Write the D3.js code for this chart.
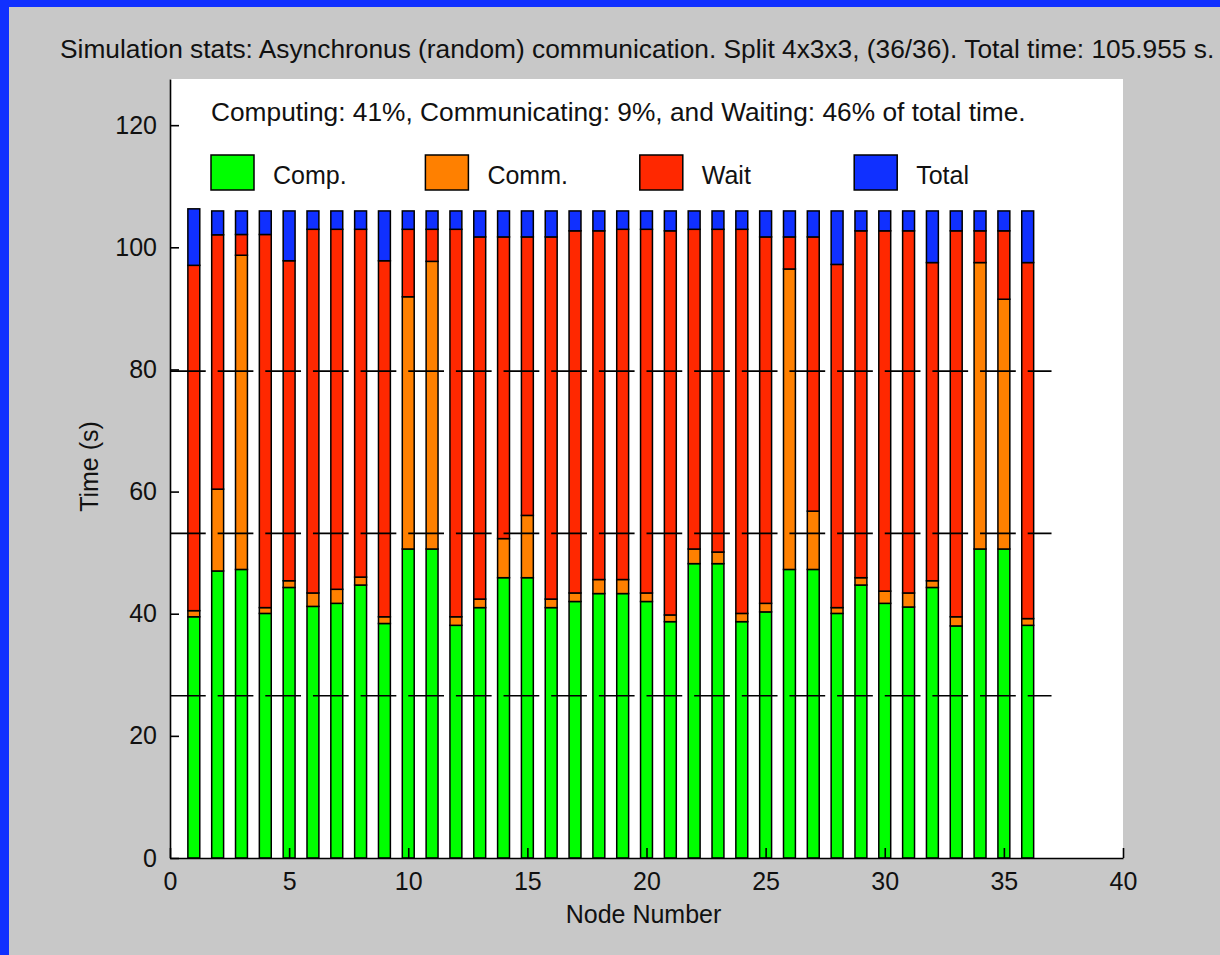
<!DOCTYPE html>
<html>
<head>
<meta charset="utf-8">
<script src="https://cdn.jsdelivr.net/npm/d3@7"></script>
<style>
  body { margin: 0; background: #c8c8c8; }
  text { font-family: "Liberation Sans", Arial, sans-serif; fill: #111; }
</style>
</head>
<body>
<script>
// values (seconds)
const nodes = d3.range(1, 37);
const comp = [39.5, 47.0, 47.25, 40.05, 44.3, 41.2, 41.7, 44.7, 38.4, 50.6, 50.6, 38.1,
  41.0, 45.9, 45.9, 41.0, 42.0, 43.3, 43.3, 42.0, 38.7, 48.2, 48.2, 38.7,
  40.3, 47.25, 47.25, 40.05, 44.7, 41.7, 41.1, 44.3, 38.0, 50.6, 50.6, 38.1];
const comm = [1.0, 13.4, 51.45, 0.95, 1.1, 2.2, 2.3, 1.3, 1.1, 41.3, 47.1, 1.4,
  1.4, 6.4, 10.2, 1.4, 1.4, 2.3, 2.3, 1.4, 1.1, 2.4, 1.9, 1.35,
  1.4, 49.2, 9.55, 0.95, 1.2, 2.0, 2.3, 1.1, 1.5, 46.9, 40.9, 1.1];
const wait = [56.55, 41.65, 3.4, 61.1, 52.4, 59.55, 58.95, 56.95, 58.3, 11.05, 5.25, 63.45,
  59.3, 49.4, 45.6, 59.3, 59.3, 57.1, 57.35, 59.55, 62.9, 52.35, 52.85, 62.9,
  60.0, 5.25, 44.9, 56.2, 56.8, 59.0, 59.3, 52.1, 63.2, 5.2, 11.2, 58.3];
const total = [106.3, 105.955, 105.955, 105.955, 105.955, 105.955, 105.955, 105.955, 105.955,
  105.955, 105.955, 105.955, 105.955, 105.955, 105.955, 105.955, 105.955, 105.955,
  105.955, 105.955, 105.955, 105.955, 105.955, 105.955, 105.955, 105.955, 105.955,
  105.955, 105.955, 105.955, 105.955, 105.955, 105.955, 105.955, 105.955, 105.955];
const keys = ["comp", "comm", "wait", "rest"];
const legendLabels = ["Comp.", "Comm.", "Wait", "Total"];
const colors = ["#00ff00", "#ff8000", "#ff2800", "#1030ff"];
const xTicks = [0, 5, 10, 15, 20, 25, 30, 35, 40];
const yTicks = [0, 20, 40, 60, 80, 100, 120];
const title = "Simulation stats: Asynchronus (random) communication. Split 4x3x3, (36/36). Total time: 105.955 s.";
const summary = "Computing: 41%, Communicating: 9%, and Waiting: 46% of total time.";

const W = 1220, H = 955;
const pLeft = 170, pRight = 1123, pTop = 79, pBottom = 858;

const rows = nodes.map((n, i) => ({
  node: n, comp: comp[i], comm: comm[i], wait: wait[i],
  rest: total[i] - comp[i] - comm[i] - wait[i]
}));
const maxTotal = d3.max(total);

const svg = d3.select("body").append("svg")
    .attr("width", W)
    .attr("height", H);

svg.append("rect").attr("width", W).attr("height", H).attr("fill", "#c8c8c8");
svg.append("rect").attr("width", W).attr("height", 7).attr("fill", "#1030ff");
svg.append("rect").attr("width", 9).attr("height", H).attr("fill", "#1030ff");

const x = d3.scaleLinear().domain([0, 40]).range([pLeft, pRight]);
const y = d3.scaleLinear().domain([0, maxTotal * 1.2]).range([pBottom, pTop]);

svg.append("rect")
    .attr("x", pLeft).attr("y", pTop)
    .attr("width", pRight - pLeft).attr("height", pBottom - pTop)
    .attr("fill", "#fff");

// stacked bars
const series = d3.stack().keys(keys)(rows);
const barW = x(0.5) - x(0);
svg.append("g").selectAll("g")
  .data(series)
  .join("g")
    .attr("fill", (d, i) => colors[i])
  .selectAll("rect")
  .data(d => d)
  .join("rect")
    .attr("x", d => x(d.data.node) - barW / 2)
    .attr("y", d => y(d[1]))
    .attr("width", barW)
    .attr("height", d => y(d[0]) - y(d[1]))
    .attr("stroke", "#000")
    .attr("stroke-width", 1.5);

// quarter lines of the total time
svg.append("g").selectAll("line")
  .data([1, 2, 3])
  .join("line")
    .attr("x1", x(0)).attr("x2", x(37))
    .attr("y1", k => y(maxTotal * k / 4))
    .attr("y2", k => y(maxTotal * k / 4))
    .attr("stroke", "#000")
    .attr("stroke-width", 1.6)
    .attr("stroke-dasharray", [x(1.5) - x(0), x(0.5) - x(0)].join(" "));

// axes
const gx = svg.append("g")
    .attr("transform", `translate(0,${pBottom})`)
    .call(d3.axisBottom(x).tickValues(xTicks).tickSizeInner(-10).tickSizeOuter(0).tickPadding(14));
const gy = svg.append("g")
    .attr("transform", `translate(${pLeft},0)`)
    .call(d3.axisLeft(y).tickValues(yTicks).tickSizeInner(-9).tickSizeOuter(0).tickPadding(13));
[gx, gy].forEach(g => {
  g.select(".domain").attr("stroke", "#000").attr("stroke-width", 1.6);
  g.selectAll(".tick line").attr("stroke", "#000").attr("stroke-width", 1.6);
  g.selectAll(".tick text")
    .attr("fill", "#111")
    .style("font-family", "'Liberation Sans', Arial, sans-serif")
    .style("font-size", "25px");
});

// fit a text to a width
function fit(sel, width) {
  let size = parseFloat(sel.style("font-size"));
  const len = sel.node().getComputedTextLength();
  sel.style("font-size", (size * width / len).toFixed(2) + "px");
}

const t = svg.append("text")
    .attr("x", 60).attr("y", 58)
    .style("font-size", "25px")
    .text(title);
fit(t, 1155);

const s = svg.append("text")
    .attr("x", 211).attr("y", 121)
    .style("font-size", "25px")
    .text(summary);
fit(s, 815);

// legend
const lg = svg.append("g").selectAll("g")
  .data(legendLabels)
  .join("g")
    .attr("transform", (d, i) => `translate(${211 + i * 214.4},155)`);
lg.append("rect")
    .attr("width", 43).attr("height", 35)
    .attr("fill", (d, i) => colors[i])
    .attr("stroke", "#000").attr("stroke-width", 1.5);
lg.append("text")
    .attr("x", 62).attr("y", 29)
    .style("font-size", "25px")
    .text(d => d);

// axis titles
svg.append("text")
    .attr("x", (pLeft + pRight) / 2 - 3).attr("y", 923)
    .attr("text-anchor", "middle")
    .style("font-size", "25px")
    .text("Node Number");
svg.append("text")
    .attr("transform", `translate(98,${(pTop + pBottom) / 2 - 2}) rotate(-90)`)
    .attr("text-anchor", "middle")
    .style("font-size", "25px")
    .text("Time (s)");
</script>
</body>
</html>
